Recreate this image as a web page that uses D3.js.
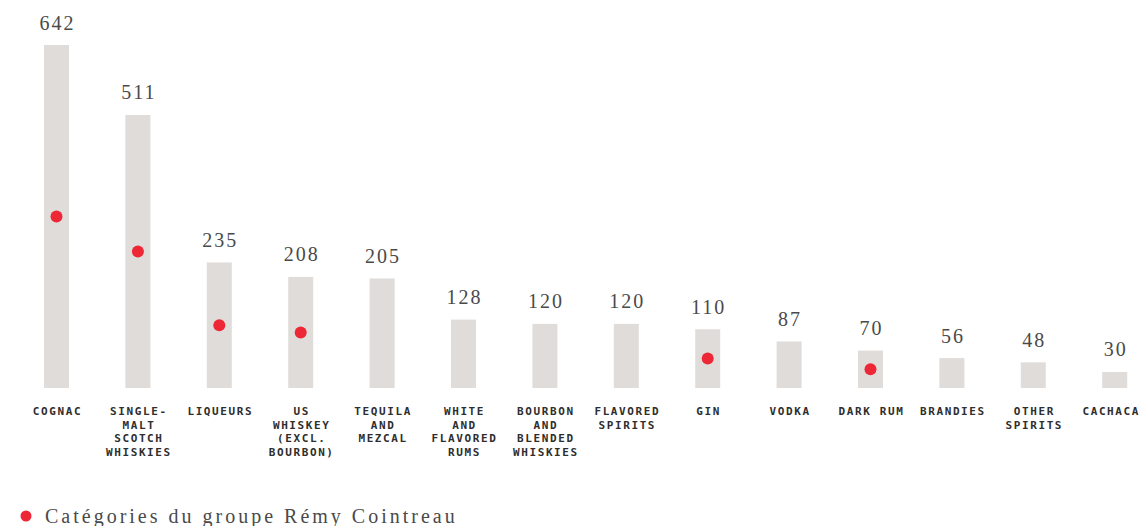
<!DOCTYPE html>
<html>
<head>
<meta charset="utf-8">
<script src="https://cdn.jsdelivr.net/npm/d3@7"></script>
<style>
  html, body { margin: 0; padding: 0; background: #fff; }
  svg { display: block; }
</style>
</head>
<body>
<svg id="chart" width="1142" height="526"></svg>
<script>
// Spirits categories, market value
const categories = [
  ["COGNAC"],
  ["SINGLE-", "MALT", "SCOTCH", "WHISKIES"],
  ["LIQUEURS"],
  ["US", "WHISKEY", "(EXCL.", "BOURBON)"],
  ["TEQUILA", "AND", "MEZCAL"],
  ["WHITE", "AND", "FLAVORED", "RUMS"],
  ["BOURBON", "AND", "BLENDED", "WHISKIES"],
  ["FLAVORED", "SPIRITS"],
  ["GIN"],
  ["VODKA"],
  ["DARK RUM"],
  ["BRANDIES"],
  ["OTHER", "SPIRITS"],
  ["CACHACA"]
];
const values = [642, 511, 235, 208, 205, 128, 120, 120, 110, 87, 70, 56, 48, 30];
// Categories where the group is present
const remyCategories = [true, true, true, true, false, false, false, false, true, false, true, false, false, false];
const legendLabel = "Catégories du groupe Rémy Cointreau";

const width = 1142;
const svg = d3.select("#chart");
const baseline = 388;

const x = d3.scaleBand()
  .domain(d3.range(values.length))
  .range([15.8, 1155.4])
  .paddingInner(0.693)
  .paddingOuter(0.3465);

const y = d3.scaleLinear()
  .domain([0, 642])
  .range([baseline, 45]);

const g = svg.append("g");

// bars
g.selectAll("rect.bar")
  .data(values)
  .join("rect")
  .attr("class", "bar")
  .attr("x", (d, i) => x(i))
  .attr("y", d => y(d))
  .attr("width", x.bandwidth())
  .attr("height", d => baseline - y(d))
  .attr("fill", "#e0dcd9");

// value labels
g.selectAll("text.value")
  .data(values)
  .join("text")
  .attr("class", "value")
  .attr("x", (d, i) => x(i) + x.bandwidth() / 2 + 1)
  .attr("y", d => y(d) - 15.5)
  .attr("text-anchor", "middle")
  .attr("font-family", "'Liberation Serif', 'DejaVu Serif', serif")
  .attr("font-size", 20)
  .attr("letter-spacing", 2)
  .attr("fill", "#4a4a4a")
  .text(d => d);

// markers at mid-height of the group's categories
g.selectAll("circle.remy")
  .data(values.map((v, i) => ({ v, i })).filter(d => remyCategories[d.i]))
  .join("circle")
  .attr("class", "remy")
  .attr("cx", d => x(d.i) + x.bandwidth() / 2)
  .attr("cy", d => y(d.v / 2))
  .attr("r", 6)
  .attr("fill", "#ee2737");

// category labels
const labels = g.selectAll("text.cat")
  .data(categories)
  .join("text")
  .attr("class", "cat")
  .attr("text-anchor", "middle")
  .attr("font-family", "'DejaVu Sans Mono', monospace")
  .attr("font-weight", "bold")
  .attr("font-size", 11)
  .attr("letter-spacing", 1.6)
  .attr("fill", "#2e2e2e");

labels.selectAll("tspan")
  .data(d => d)
  .join("tspan")
  .attr("x", 0)
  .attr("y", (d, j) => j * 13.5)
  .text(d => d);

// keep each label inside the drawing area
labels.attr("transform", function (d, i) {
  const w = this.getBBox().width;
  let cx = x(i) + x.bandwidth() / 2 + 1;
  cx = Math.min(cx, width - 2 - w / 2);
  return `translate(${cx},415)`;
});

// legend
const legend = svg.append("g").attr("transform", "translate(26,516)");
legend.append("circle").attr("r", 5.5).attr("fill", "#ee2737");
legend.append("text")
  .attr("x", 19)
  .attr("y", 6.5)
  .attr("font-family", "'Liberation Serif', 'DejaVu Serif', serif")
  .attr("font-size", 20)
  .attr("letter-spacing", 3)
  .attr("fill", "#4a4a4a")
  .text(legendLabel);
</script>
</body>
</html>
